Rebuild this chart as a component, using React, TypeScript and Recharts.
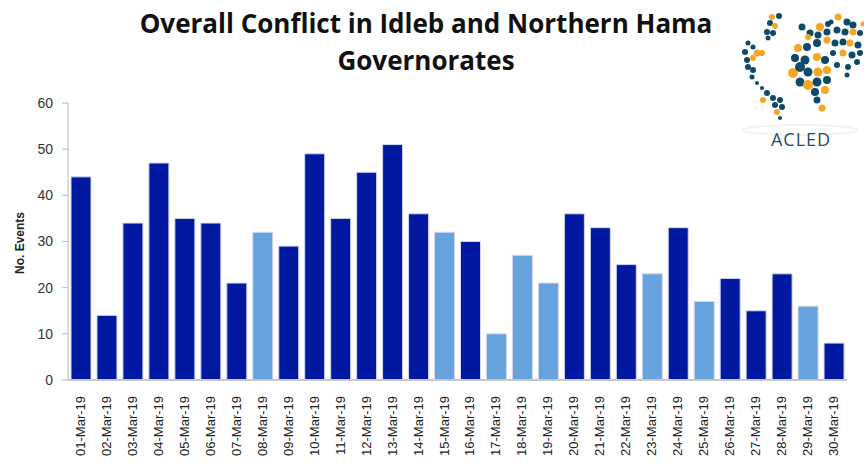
import React from 'react';
import { BarChart, Bar, XAxis, YAxis, Cell } from 'recharts';

const dates = [
  '01-Mar-19', '02-Mar-19', '03-Mar-19', '04-Mar-19', '05-Mar-19', '06-Mar-19', '07-Mar-19', '08-Mar-19',
  '09-Mar-19', '10-Mar-19', '11-Mar-19', '12-Mar-19', '13-Mar-19', '14-Mar-19', '15-Mar-19', '16-Mar-19',
  '17-Mar-19', '18-Mar-19', '19-Mar-19', '20-Mar-19', '21-Mar-19', '22-Mar-19', '23-Mar-19', '24-Mar-19',
  '25-Mar-19', '26-Mar-19', '27-Mar-19', '28-Mar-19', '29-Mar-19', '30-Mar-19',
];
const events = [44, 14, 34, 47, 35, 34, 21, 32, 29, 49, 35, 45, 51, 36, 32, 30, 10, 27, 21, 36, 33, 25, 23, 33, 17, 22, 15, 23, 16, 8];
// days drawn in the lighter blue
const lightDays = ['08-Mar-19', '15-Mar-19', '17-Mar-19', '18-Mar-19', '19-Mar-19', '23-Mar-19', '25-Mar-19', '29-Mar-19'];
const yTicks = [0, 10, 20, 30, 40, 50, 60];

const DARK = '#0019a0';
const LIGHT = '#66a2dd';

const data = dates.map((d, i) => ({ date: d, events: events[i] }));

// rough dots of the ACLED logo: x, y, r, orange?
const logoDots: [number, number, number, number][] = [
  [772, 17, 3, 1], [779, 16, 3, 0], [770, 23, 3, 0], [775, 26, 3, 1], [767, 32, 3, 0], [773, 33, 3, 0], [768, 38, 2.5, 0],
  [748, 43, 2.5, 0], [753, 47, 2.5, 0], [745, 52, 3, 0], [757, 53, 3.5, 1], [762, 53, 3, 1], [747, 60, 3, 0],
  [753, 58, 3, 1], [748, 67, 3, 0], [753, 70, 3, 0], [752, 77, 2.5, 0], [757, 83, 2, 0], [762, 88, 2, 0],
  [767, 93, 3, 0], [763, 100, 3, 1], [773, 98, 3, 0], [780, 100, 3, 0], [775, 105, 3, 0], [782, 107, 3, 0],
  [777, 112, 3, 1], [780, 118, 2, 0],
  [802, 27, 3.5, 0], [820, 27, 4, 1], [828, 24, 3, 0], [810, 33, 3.5, 0], [818, 35, 3.5, 0], [827, 32, 3.5, 0],
  [798, 48, 4, 1], [807, 47, 4, 0], [817, 43, 4, 0], [827, 40, 3.5, 1], [808, 37, 3, 1],
  [795, 58, 4, 0], [805, 60, 4.5, 0], [817, 57, 4, 1], [825, 60, 4, 0], [793, 73, 5, 1], [800, 67, 5, 0],
  [808, 72, 4.5, 0], [818, 72, 4.5, 1], [827, 70, 4, 1], [800, 82, 4.5, 0], [808, 85, 5, 1], [817, 82, 4.5, 0],
  [827, 80, 4, 0], [815, 92, 4, 0], [825, 90, 4, 1], [817, 100, 3.5, 0], [822, 108, 3.5, 1],
  [838, 17, 3.5, 1], [847, 22, 3.5, 0], [853, 25, 3.5, 0], [837, 30, 3.5, 0], [845, 32, 3.5, 0], [853, 32, 3.5, 1],
  [860, 33, 3, 0], [835, 43, 3.5, 0], [843, 42, 3.5, 0], [850, 43, 3.5, 1], [858, 45, 3.5, 0], [833, 53, 3, 0],
  [843, 53, 3.5, 1], [852, 55, 3.5, 0], [860, 53, 3, 0], [837, 65, 3, 0], [848, 67, 3, 0], [857, 62, 3, 0],
  [847, 75, 2.5, 0], [831, 22, 2.5, 0], [863, 24, 2.5, 1],
];

const XTick = (props: any) => {
  const { x, y, payload } = props;
  return (
    <text
      x={0}
      y={0}
      transform={`translate(${x + 4},${y + 8}) rotate(-90)`}
      textAnchor="end"
      fontSize={13}
      fontFamily="'Liberation Sans', Arial, sans-serif"
      fill="#222"
    >
      {payload.value}
    </text>
  );
};

export default function App() {
  return (
    <div style={{ position: 'relative', width: 864, height: 468, background: '#fff', overflow: 'hidden' }}>
      <style>{'body{margin:0}'}</style>
      <div
        style={{
          position: 'absolute',
          left: 0,
          top: 5,
          width: 852,
          textAlign: 'center',
          fontFamily: "'Open Sans', sans-serif",
          fontWeight: 700,
          fontSize: 26,
          lineHeight: '37px',
          color: '#111',
        }}
      >
        Overall Conflict in Idleb and Northern Hama
        <br />
        Governorates
      </div>
      <div
        style={{
          position: 'absolute',
          left: 20,
          top: 243,
          transform: 'translate(-50%, -50%) rotate(-90deg)',
          fontFamily: "'Liberation Sans', Arial, sans-serif",
          fontWeight: 700,
          fontSize: 12,
          color: '#222',
          whiteSpace: 'nowrap',
        }}
      >
        No. Events
      </div>
      <svg style={{ position: 'absolute', left: 0, top: 0 }} width={864} height={160}>
        <ellipse cx={800} cy={130} rx={58} ry={5} fill="none" stroke="#f0f2f4" strokeWidth={2} />
        {logoDots.map(([cx, cy, r, o], i) => (
          <circle key={i} cx={cx} cy={cy} r={r} fill={o ? '#f5a623' : '#0d4a6a'} />
        ))}
        <text x={801} y={146} textAnchor="middle" fontFamily="'Open Sans', sans-serif" fontSize={18} letterSpacing={1} fill="#1f4e6e">
          ACLED
        </text>
      </svg>
      <div style={{ position: 'absolute', left: 0, top: 0 }}>
        <BarChart
          width={864}
          height={468}
          data={data}
          margin={{ top: 103, right: 17, left: 8, bottom: 0 }}
          barCategoryGap={3}
        >
          <XAxis
            dataKey="date"
            interval={0}
            height={88}
            tick={<XTick />}
            tickLine={false}
            axisLine={{ stroke: '#c8c8c8', strokeWidth: 2 }}
          />
          <YAxis
            domain={[0, 60]}
            ticks={yTicks}
            width={60}
            tick={{ fontSize: 14, fill: '#333', fontFamily: "'Liberation Sans', Arial, sans-serif" }}
            tickSize={6}
            tickMargin={9}
            tickLine={{ stroke: '#b8b8b8' }}
            axisLine={{ stroke: '#b8b8b8' }}
          />
          <Bar dataKey="events" isAnimationActive={false} stroke="#d4d8ee" strokeWidth={1}>
            {data.map(d => (
              <Cell key={d.date} fill={lightDays.includes(d.date) ? LIGHT : DARK} />
            ))}
          </Bar>
        </BarChart>
      </div>
    </div>
  );
}
